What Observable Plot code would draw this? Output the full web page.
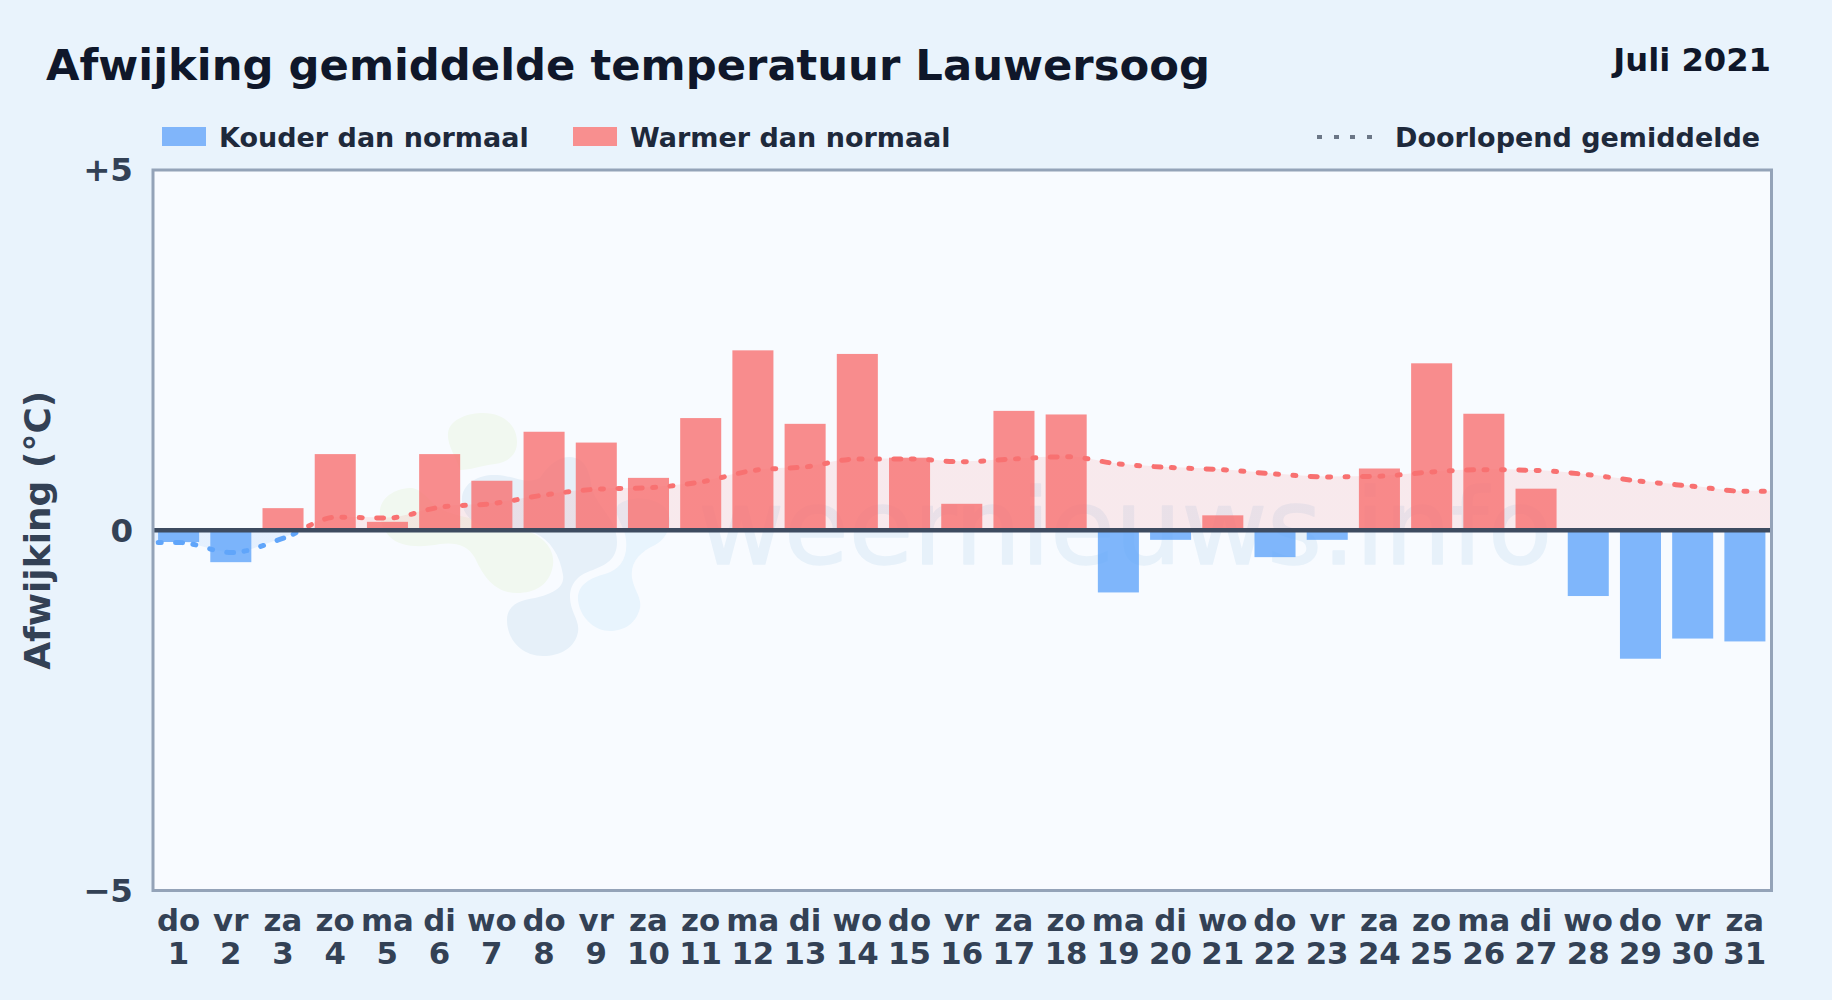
<!DOCTYPE html>
<html lang="nl">
<head>
<meta charset="utf-8">
<title>Afwijking gemiddelde temperatuur Lauwersoog</title>
<script src="https://cdn.jsdelivr.net/npm/d3@7"></script>
<script src="https://cdn.jsdelivr.net/npm/@observablehq/plot@0.6"></script>
<style>
html,body{margin:0;padding:0;width:1832px;height:1000px;overflow:hidden;background:#e9f3fc;font-family:"DejaVu Sans",sans-serif;font-weight:bold}
#page{position:relative;width:1832px;height:1000px}
#chart{position:absolute;left:0;top:0}
#chart svg{display:block;background:transparent}
.t{position:absolute;white-space:nowrap;line-height:1}
#title{left:46px;top:43.5px;font-size:43.3px;color:#0f172a}
#period{right:61px;top:43.5px;font-size:32.2px;color:#0f172a}
.lg{font-size:27px;color:#1e293b;top:124px}
.sw{position:absolute;top:127px;height:19px;width:43.5px}
#dots{position:absolute;left:1317px;top:135px;width:56px;height:4px;background:repeating-linear-gradient(90deg,#6b7686 0 5px,transparent 5px 16.7px)}
</style>
</head>
<body>
<div id="page">
  <div id="chart"></div>
  <div class="t" id="title">Afwijking gemiddelde temperatuur Lauwersoog</div>
  <div class="t" id="period">Juli 2021</div>
  <div class="sw" style="left:162px;background:#80b5fa"></div>
  <div class="t lg" style="left:219px">Kouder dan normaal</div>
  <div class="sw" style="left:573px;background:#f88f8f"></div>
  <div class="t lg" style="left:630px">Warmer dan normaal</div>
  <div id="dots"></div>
  <div class="t lg" style="left:1395px">Doorlopend gemiddelde</div>
</div>
<script>
const days = [1,2,3,4,5,6,7,8,9,10,11,12,13,14,15,16,17,18,19,20,21,22,23,24,25,26,27,28,29,30,31];
const weekdays = ["do","vr","za","zo","ma","di","wo","do","vr","za","zo","ma","di","wo","do","vr","za","zo","ma","di","wo","do","vr","za","zo","ma","di","wo","do","vr","za"];
const deviation = [-0.17,-0.45,0.30,1.05,0.11,1.05,0.68,1.36,1.21,0.72,1.55,2.49,1.47,2.44,1.00,0.36,1.65,1.60,-0.87,-0.14,0.20,-0.38,-0.14,0.85,2.31,1.61,0.57,-0.92,-1.79,-1.51,-1.55];
const runningMean = [-0.17,-0.31,-0.11,0.18,0.17,0.32,0.37,0.49,0.57,0.59,0.67,0.83,0.88,0.99,0.99,0.95,0.99,1.02,0.92,0.87,0.84,0.78,0.74,0.75,0.81,0.84,0.83,0.77,0.68,0.61,0.54];
const yTicks = [5,0,-5];

const barRows = days.map((d,i)=>({day:d,value:deviation[i]}));
// The running mean starts and ends on the frame edges.
const meanRows = [
  {day:days[0]-0.5,value:runningMean[0]},
  ...days.map((d,i)=>({day:d,value:runningMean[i]})),
  {day:days[days.length-1]+0.5,value:runningMean[runningMean.length-1]}
];

const ink = "#334155";
const warm = "#f87171", cold = "#60a5fa";
const font = {fontFamily:"'DejaVu Sans',sans-serif",fontWeight:"bold"};

// Sign-split paint for the running mean and its area, placed by the y scale.
const splitPaint = (index,{y}) => {
  const defs = d3.create("svg:defs");
  const g = defs.append("linearGradient").attr("id","split").attr("gradientUnits","userSpaceOnUse")
    .attr("x1",0).attr("x2",0).attr("y1",y(5)).attr("y2",y(-5));
  g.append("stop").attr("offset","50%").attr("stop-color",warm);
  g.append("stop").attr("offset","50%").attr("stop-color",cold);
  return defs.node();
};

// Faint site logo behind the data.
const logoBlobs = [
  ["#f1f8f0","M448,433 C450,418 470,413 483,413 C503,413 517,425 517,442 C517,456 507,462 495,464 C480,466 470,470 460,470 C455,455 447,445 448,433Z"],
  ["#f1f8f0","M380,510 C382,495 398,488 412,488 C425,490 430,505 447,512 C470,520 500,522 525,530 C545,537 555,550 553,565 C550,585 535,593 517,593 C497,593 485,580 475,558 C468,545 455,542 440,544 C420,548 400,547 390,537 C383,530 379,520 380,510Z"],
  ["#e6f0f9","M462,497 C464,482 480,474 497,475 C515,476 525,485 540,478 C548,465 558,457 570,457 C585,458 590,470 592,490 C600,510 617,520 617,542 C617,560 605,565 593,570 C580,574 570,582 570,597 C570,612 580,620 578,632 C575,648 560,656 543,656 C522,656 507,640 507,620 C507,605 520,600 535,598 C552,594 565,588 563,575 C560,555 550,540 535,533 C515,526 497,530 480,525 C468,520 461,510 462,497Z"],
  ["#e8f4fd","M618,505 C630,495 655,497 665,508 C675,520 668,538 655,545 C640,552 630,562 632,578 C634,590 642,598 640,608 C636,625 622,631 610,631 C595,631 580,618 578,600 C577,585 590,578 605,574 C620,570 628,558 626,540 C625,525 612,515 618,505Z"]
];
const logo = () => {
  const g = d3.create("svg:g");
  for (const [c,p] of logoBlobs) g.append("path").attr("fill",c).attr("d",p);
  return g.node();
};

const chart = Plot.plot({
  width:1832,height:1000,
  marginLeft:152.5,marginRight:61,marginTop:169.5,marginBottom:110,
  style:{background:"transparent",...font},
  x:{type:"linear",domain:[0.5,31.5]},
  y:{domain:[-5,5]},
  marks:[
    splitPaint,
    Plot.frame({fill:"#f8fbff",stroke:null}),
    logo,
    Plot.text(["weernieuws.info"],{frameAnchor:"middle",text:d=>d,fontSize:105,fontWeight:"normal",fill:"#e7f1fa",stroke:"#e7f1fa",strokeWidth:1.5,lineAnchor:"middle",dx:163}),
    Plot.areaY(meanRows,{x:"day",y1:0,y2:"value",curve:"monotone-x",fill:"url(#split)",fillOpacity:0.13}),
    Plot.rectY(barRows,{x1:d=>d.day-0.393,x2:d=>d.day+0.393,y1:0,y2:"value",fill:d=>d.value<0?cold:warm,fillOpacity:0.8}),
    Plot.line(meanRows,{x:"day",y:"value",curve:"monotone-x",stroke:"url(#split)",strokeWidth:5,strokeLinecap:"round",strokeDasharray:"3 14.4 3 14.4 7 10.4",strokeDashoffset:12.2}),
    Plot.ruleY([0],{stroke:"#3d4b60",strokeWidth:4.4}),
    Plot.frame({stroke:"#94a3b8",strokeWidth:3}),
    Plot.axisY({ticks:yTicks,tickSize:0,tickPadding:20,dy:1,label:null,fontSize:32.5,fill:ink,tickFormat:d=>d>0?"+"+d:d<0?"\u2212"+(-d):"0"}),
    Plot.axisX({ticks:days,tickSize:0,tickPadding:16.5,dx:-0.6,label:null,fontSize:30.8,fill:ink,lineHeight:1.09,tickFormat:d=>weekdays[d-1]+"\n"+d}),
    Plot.text(["Afwijking (\u00B0C)"],{frameAnchor:"left",textAnchor:"middle",rotate:-90,dx:-115,text:d=>d,fontSize:36,fill:ink})
  ]
});
document.getElementById("chart").append(chart);
</script>
</body>
</html>
